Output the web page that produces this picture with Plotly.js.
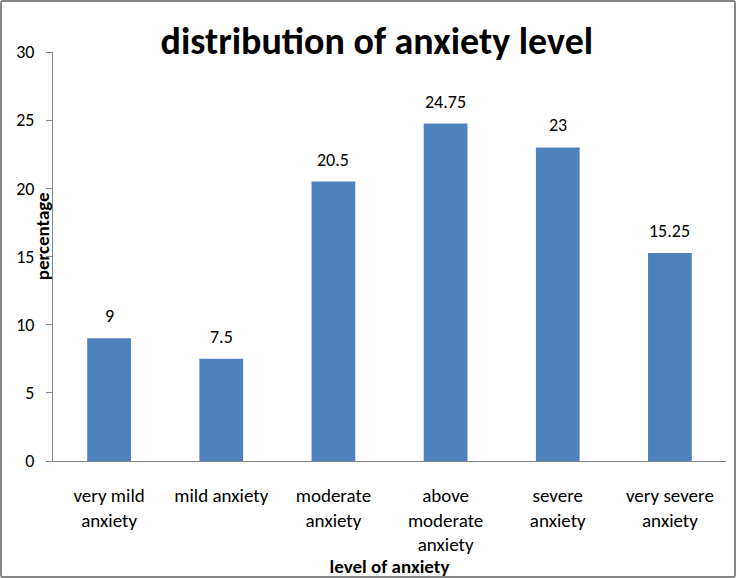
<!DOCTYPE html>
<html>
<head>
<meta charset="utf-8">
<script src="https://cdn.plot.ly/plotly-3.0.1.min.js"></script>
<style>
  html, body { margin: 0; padding: 0; background: #fff; }
  #wrap { position: relative; width: 736px; height: 578px; }
  #chart { width: 736px; height: 578px; }
  #frame { position: absolute; left: 0; top: 0; width: 736px; height: 578px; box-sizing: border-box;
           border: 2px solid #868686; border-radius: 3px; pointer-events: none; }
</style>
</head>
<body>
<div id="wrap"><div id="chart"></div><div id="frame"></div></div>
<script>
const categories = ["very mild<br>anxiety", "mild anxiety", "moderate<br>anxiety", "above<br>moderate<br>anxiety", "severe<br>anxiety", "very severe<br>anxiety"];
const values = [9, 7.5, 20.5, 24.75, 23, 15.25];
const valueLabels = ["9", "7.5", "20.5", "24.75", "23", "15.25"];
const yTicks = [0, 5, 10, 15, 20, 25, 30];

const FONT = "Carlito, Lato, 'Open Sans', sans-serif";

const trace = {
  type: "bar",
  x: categories,
  y: values,
  marker: { color: "#4F81BD" },
  hoverinfo: "x+y"
};

const annotations = categories.map((c, i) => ({
  x: c, y: values[i], xref: "x", yref: "y",
  text: valueLabels[i], showarrow: false,
  yanchor: "bottom", yshift: 9,
  font: { family: FONT, size: 18, color: "#000" }
}));
annotations.push({
  xref: "paper", yref: "paper", x: -0.016, y: 0.55,
  xanchor: "center", yanchor: "middle", textangle: -90,
  text: "<b>percentage</b>", showarrow: false,
  font: { family: FONT, size: 19, color: "#000" }
});

const layout = {
  width: 736, height: 578,
  margin: { l: 53, r: 10, t: 52, b: 117 },
  paper_bgcolor: "#fff", plot_bgcolor: "#fff",
  font: { family: FONT, size: 18, color: "#000" },
  title: {
    text: "<b>distribution of anxiety level</b>",
    font: { family: FONT, size: 38, color: "#000" },
    x: 0.512, xref: "container", xanchor: "center",
    y: 0.93, yref: "container", yanchor: "middle"
  },
  bargap: 0.61,
  showlegend: false,
  xaxis: {
    type: "category",
    showline: true, linecolor: "#868686", linewidth: 1,
    ticks: "", ticklabelstandoff: 17,
    tickfont: { family: FONT, size: 19, color: "#000" },
    title: { text: "<b>level of anxiety</b>", font: { family: FONT, size: 19, color: "#000" }, standoff: 0 },
    automargin: false, fixedrange: true
  },
  yaxis: {
    range: [0, 30], tickvals: yTicks, ticktext: yTicks.map(String),
    showgrid: false, zeroline: false,
    showline: true, linecolor: "#868686", linewidth: 1,
    ticks: "outside", ticklen: 6, tickcolor: "#868686",
    ticklabelstandoff: 8,
    tickfont: { family: FONT, size: 18, color: "#000" },
    automargin: false, fixedrange: true
  },
  annotations: annotations
};

Plotly.newPlot("chart", [trace], layout, { displayModeBar: false, staticPlot: true });
</script>
</body>
</html>
